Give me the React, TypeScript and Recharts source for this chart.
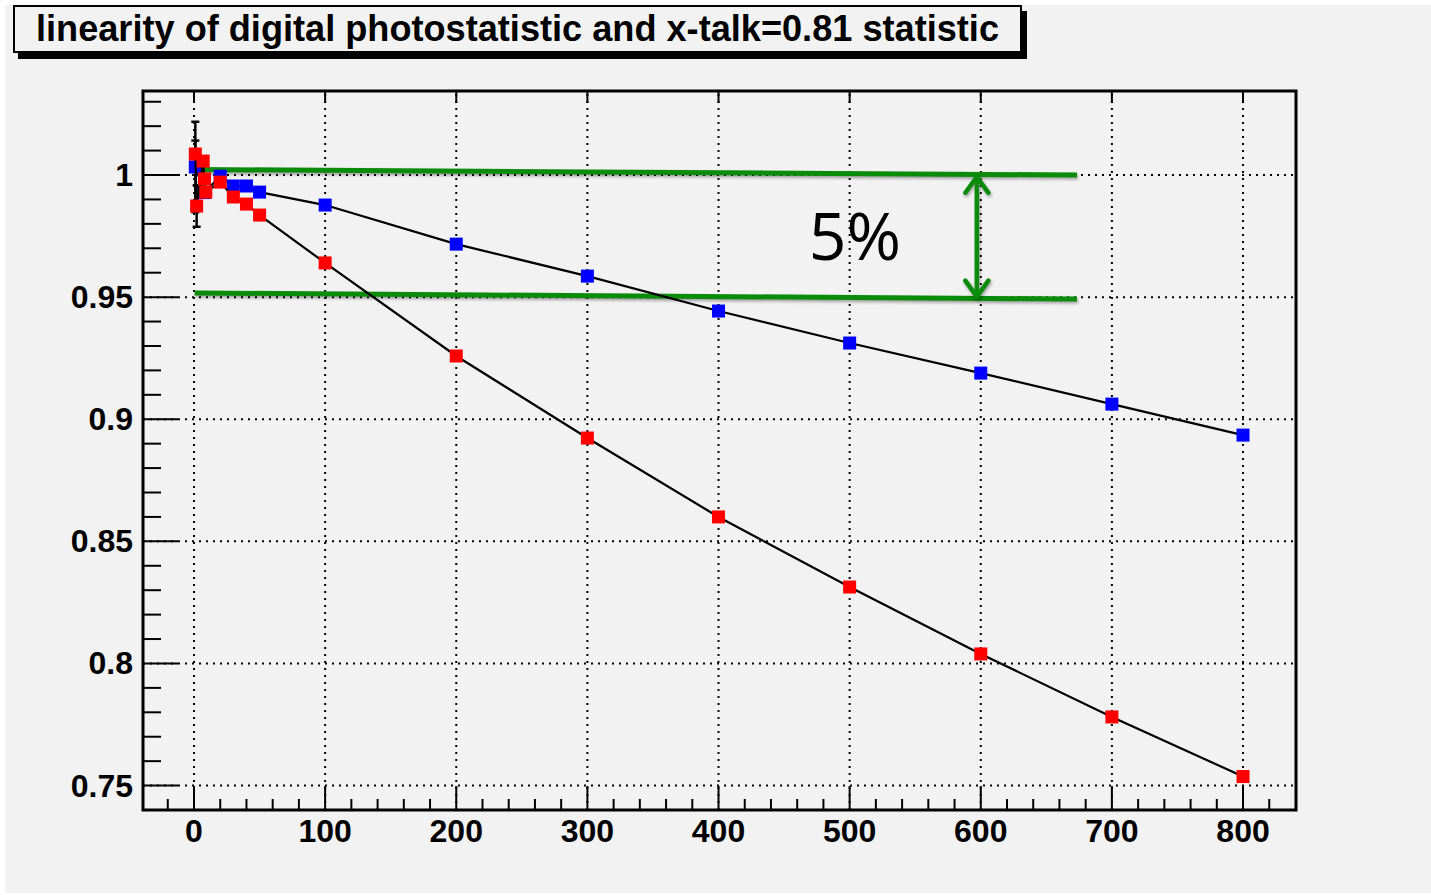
import React from "react"
import {
  ScatterChart,
  Scatter,
  XAxis,
  YAxis,
  ErrorBar,
  ReferenceLine,
  ReferenceArea,
  ReferenceDot,
} from "recharts"

// photostatistic response (blue) and x-talk=0.81 response (red)
const blueX = [1, 8, 20, 30, 40, 50, 100, 200, 300, 400, 500, 600, 700, 800]
const blueY = [1.0033, 0.9928, 0.9995, 0.9955, 0.9955, 0.993, 0.9877, 0.9717, 0.9586, 0.9443, 0.9312, 0.9189, 0.9062, 0.8935]

const redX = [1, 2, 7, 8, 9, 20, 30, 40, 50, 100, 200, 300, 400, 500, 600, 700, 800]
const redY = [1.0086, 0.9873, 1.0057, 0.9984, 0.993, 0.9971, 0.991, 0.9881, 0.9836, 0.964, 0.9259, 0.8923, 0.86, 0.8313, 0.8039, 0.7781, 0.7537]

// statistical errors of the lowest points
const blueErr = [0.0185]
const redErr = [0.0055, 0.0085]

// 5% band
const bandUpper = [
  { x: -0.8, y: 1.00225 },
  { x: 673.4, y: 1.0 },
]
const bandLower = [
  { x: 0.5, y: 0.9517 },
  { x: 673.4, y: 0.9492 },
]
const arrowX = 597
const arrowTop = 0.9993
const arrowBottom = 0.9502
const bandText = "5%"
const bandTextPos = { x: 504, y: 0.9652 }

const title = "linearity of digital photostatistic and x-talk=0.81 statistic"

const xMajor = [0, 100, 200, 300, 400, 500, 600, 700, 800]
const yMajor = [0.75, 0.8, 0.85, 0.9, 0.95, 1]
const yLabels = ["0.75", "0.8", "0.85", "0.9", "0.95", "1"]

const X_DOMAIN: [number, number] = [-38.9, 840.4]
const Y_DOMAIN: [number, number] = [0.74, 1.0344]

const steps = (from: number, to: number, step: number) => {
  const out: number[] = []
  for (let v = from; v <= to + step / 2; v += step) out.push(Math.round(v * 1000) / 1000)
  return out
}
const xTicks = steps(-20, 820, 20)
const yTicks = steps(0.75, 1.03, 0.01)

const PLOT_LEFT = 143
const PLOT_RIGHT = 1296
const PLOT_TOP = 91
const PLOT_BOTTOM = 810
const GREEN = "#0a8c0a"
const FONT = "'Liberation Sans', Arial, Helvetica, sans-serif"

const blueData = blueX.map((x, i) => ({ x, y: blueY[i] }))
const redData = redX.map((x, i) => ({ x, y: redY[i] }))
const errData = [
  { x: blueX[0], y: blueY[0], err: blueErr[0] },
  { x: redX[0], y: redY[0], err: redErr[0] },
  { x: redX[1], y: redY[1], err: redErr[1] },
]

const isMajor = (v: number, list: number[]) => list.some((m) => Math.abs(m - v) < 1e-6)

function XTick(props: any) {
  const { x, payload } = props
  const major = isMajor(payload.value, xMajor)
  return (
    <g>
      <line x1={x} x2={x} y1={PLOT_BOTTOM} y2={PLOT_BOTTOM - (major ? 24 : 11)} stroke="#000" strokeWidth={2} />
      {major && <line x1={x} x2={x} y1={PLOT_TOP} y2={PLOT_TOP + 12} stroke="#000" strokeWidth={2} />}
      {major && (
        <text x={x} y={PLOT_BOTTOM + 32} textAnchor="middle" fontFamily={FONT} fontWeight="bold" fontSize={32} fill="#000">
          {payload.value}
        </text>
      )}
    </g>
  )
}

function YTick(props: any) {
  const { y, payload } = props
  const idx = yMajor.findIndex((m) => Math.abs(m - payload.value) < 1e-6)
  const major = idx >= 0
  return (
    <g>
      <line x1={PLOT_LEFT} x2={PLOT_LEFT + (major ? 35 : 18)} y1={y} y2={y} stroke="#000" strokeWidth={2} />
      {major && (
        <text x={PLOT_LEFT - 10} y={y + 11} textAnchor="end" fontFamily={FONT} fontWeight="bold" fontSize={32} fill="#000">
          {yLabels[idx]}
        </text>
      )}
    </g>
  )
}

const square = (color: string) => (props: any) =>
  <rect x={props.cx - 6.5} y={props.cy - 6.5} width={13} height={13} fill={color} />

function Arrow(props: any) {
  const { x1, y1, y2 } = props
  const w = 11.5
  const h = 16
  return (
    <g stroke={GREEN} strokeWidth={4.5} fill="none" strokeLinecap="round" strokeLinejoin="round" style={{ filter: "drop-shadow(1px 2px 1.5px rgba(0,0,0,0.35))" }}>
      <line x1={x1} x2={x1} y1={y1} y2={y2} />
      <polyline points={`${x1 - w},${y1 + h} ${x1},${y1} ${x1 + w},${y1 + h}`} />
      <polyline points={`${x1 - w},${y2 - h} ${x1},${y2} ${x1 + w},${y2 - h}`} />
    </g>
  )
}

const shadow = { filter: "drop-shadow(1px 2px 1.5px rgba(0,0,0,0.35))" }

export default function App() {
  return (
    <div style={{ position: "absolute", left: 0, top: 0, width: 1431, height: 895, background: "#ffffff" }}>
      <div style={{ position: "absolute", left: 5, top: 5, width: 1426, height: 888, background: "#f2f2f2" }} />
      <div
        style={{
          position: "absolute",
          left: 13,
          top: 5,
          width: 1005,
          height: 44,
          border: "2px solid #000",
          background: "#f2f2f2",
          boxShadow: "5px 6px 0 #000",
        }}
      >
        <svg width={1005} height={44} style={{ display: "block" }}>
          <text x={21} y={34} fontFamily={FONT} fontWeight="bold" fontSize={36} textLength={963} lengthAdjust="spacingAndGlyphs" fill="#000">
            {title}
          </text>
        </svg>
      </div>
      <div style={{ position: "absolute", left: 0, top: 0 }}>
        <ScatterChart width={1431} height={895} margin={{ top: PLOT_TOP, left: PLOT_LEFT - 60, right: 1431 - PLOT_RIGHT, bottom: 895 - PLOT_BOTTOM - 30 }}>
          <XAxis
            type="number"
            dataKey="x"
            domain={X_DOMAIN}
            allowDataOverflow
            ticks={xTicks}
            interval={0}
            tick={<XTick />}
            tickLine={false}
            axisLine={false}
            height={30}
          />
          <YAxis
            type="number"
            dataKey="y"
            domain={Y_DOMAIN}
            allowDataOverflow
            ticks={yTicks}
            interval={0}
            tick={<YTick />}
            tickLine={false}
            axisLine={false}
            width={60}
          />
          {xMajor.map((v) => (
            <ReferenceLine key={`gx${v}`} x={v} stroke="#000" strokeWidth={2} strokeDasharray="2 5" />
          ))}
          {yMajor.map((v) => (
            <ReferenceLine key={`gy${v}`} y={v} stroke="#000" strokeWidth={2} strokeDasharray="2 5" />
          ))}
          <ReferenceArea x1={X_DOMAIN[0]} x2={X_DOMAIN[1]} y1={Y_DOMAIN[0]} y2={Y_DOMAIN[1]} fill="none" stroke="#000" strokeWidth={3} ifOverflow="visible" />
          <Scatter data={errData} shape={() => <g />} isAnimationActive={false}>
            <ErrorBar dataKey="err" direction="y" width={4} stroke="#000" strokeWidth={2.5} />
          </Scatter>
          <Scatter data={blueData} shape={square("#0000ff")} line={{ stroke: "#000", strokeWidth: 2.2 }} lineType="joint" isAnimationActive={false} />
          <Scatter data={redData} shape={square("#ff0000")} line={{ stroke: "#000", strokeWidth: 2.2 }} lineType="joint" isAnimationActive={false} />
          <ReferenceLine segment={bandUpper} stroke={GREEN} strokeWidth={5} ifOverflow="visible" style={shadow} />
          <ReferenceLine segment={bandLower} stroke={GREEN} strokeWidth={5} ifOverflow="visible" style={shadow} />
          <ReferenceLine
            segment={[
              { x: arrowX, y: arrowTop },
              { x: arrowX, y: arrowBottom },
            ]}
            ifOverflow="visible"
            shape={<Arrow />}
          />
          <ReferenceDot
            x={bandTextPos.x}
            y={bandTextPos.y}
            r={0}
            ifOverflow="visible"
            shape={(p: any) => (
              <text x={p.cx} y={p.cy} textAnchor="middle" fontFamily="'Open Sans', sans-serif" fontSize={66} fill="#000">
                {bandText}
              </text>
            )}
          />
        </ScatterChart>
      </div>
    </div>
  )
}
